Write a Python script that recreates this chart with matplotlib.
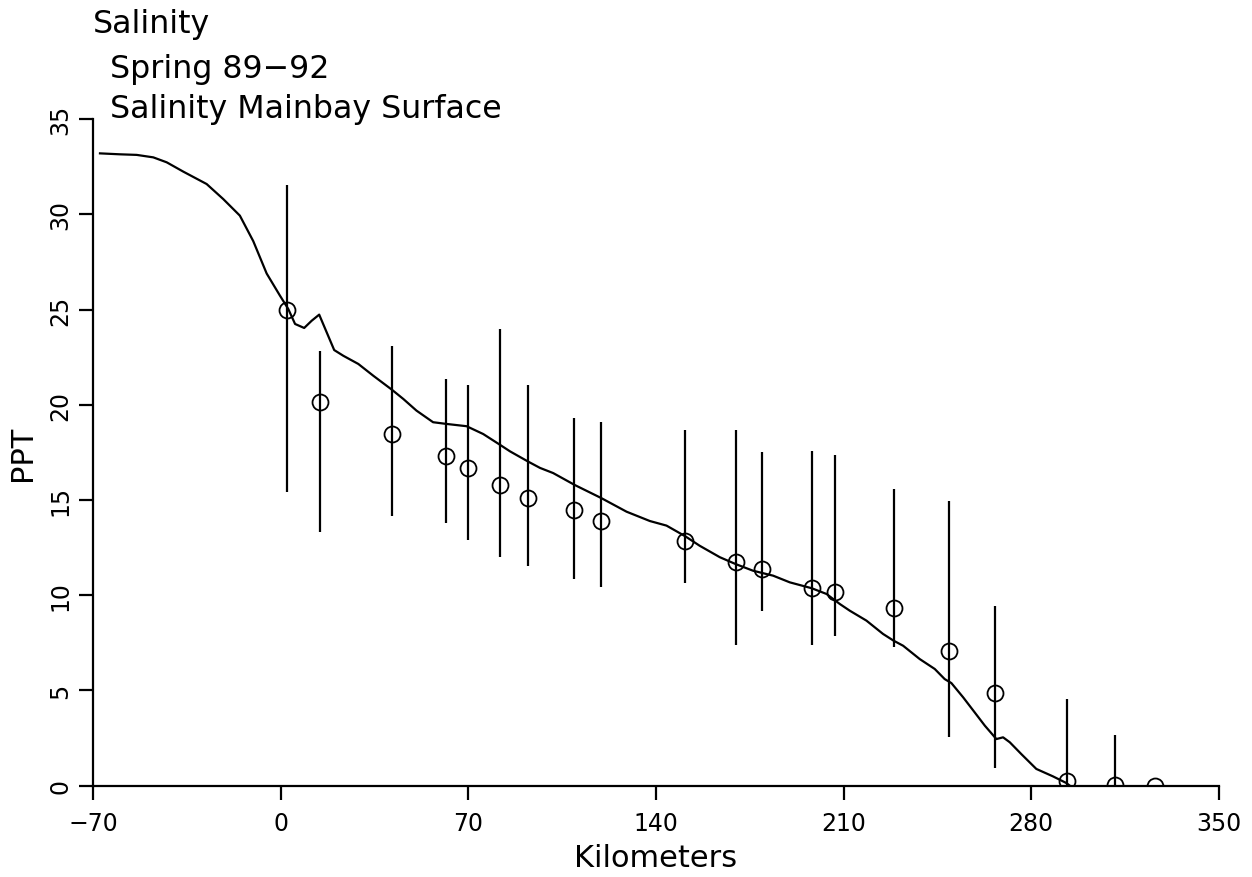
import numpy as np
import matplotlib
matplotlib.use("Agg")
import matplotlib.pyplot as plt

# Station observations (km, mean salinity, lower / upper bar ends)
station_km = [2.2, 14.6, 41.4, 61.5, 70.0, 81.8, 92.3, 109.2, 119.5, 150.9,
              169.7, 179.4, 198.1, 206.8, 228.7, 249.4, 266.6, 293.3, 311.3, 326.3]
station_mean = [24.98, 20.14, 18.47, 17.32, 16.69, 15.78, 15.11, 14.46, 13.92, 12.87,
                11.73, 11.36, 10.38, 10.19, 9.33, 7.06, 4.85, 0.26, 0.04, 0.0]
station_low = [15.44, 13.34, 14.15, 13.80, 12.92, 12.00, 11.55, 10.87, 10.42, 10.63,
               7.41, 9.18, 7.41, 7.85, 7.27, 2.57, 0.91, 0.0, 0.0, 0.0]
station_high = [31.55, 22.82, 23.11, 21.34, 21.05, 23.97, 21.06, 19.30, 19.12, 18.70,
                18.70, 17.54, 17.60, 17.39, 15.57, 14.94, 9.42, 4.54, 2.65, 0.0]

# Model curve
model_km = [-67.5, -60.0, -53.8, -47.6, -42.6, -36.4, -27.7, -21.5, -15.3, -10.3,
            -5.3, -0.35, 2.75, 5.3, 8.7, 11.5, 14.3, 17.1, 19.9, 23.3, 28.9, 34.5,
            41.4, 45.7, 50.6, 56.8, 61.8, 69.3, 75.5, 81.7, 85.5, 92.3, 96.7, 101.6,
            109.7, 119.5, 129.0, 137.7, 143.9, 150.9, 156.3, 163.8, 169.7, 176.2,
            183.7, 189.9, 198.1, 203.6, 208.6, 212.3, 218.5, 224.7, 228.6, 232.2,
            238.4, 244.0, 247.7, 250.2, 254.6, 258.9, 262.7, 267.0, 269.5, 272.0,
            276.3, 281.9, 288.1, 293.1, 294.4]
model_sal = [33.21, 33.16, 33.13, 33.0, 32.74, 32.25, 31.6, 30.81, 29.94, 28.6,
             26.9, 25.74, 25.04, 24.25, 24.04, 24.42, 24.74, 23.81, 22.88, 22.58, 22.15, 21.53,
             20.8, 20.31, 19.7, 19.09, 19.0, 18.88, 18.47, 17.91, 17.56, 17.02, 16.69, 16.42,
             15.79, 15.11, 14.39, 13.9, 13.66, 13.1, 12.6, 12.0, 11.64, 11.29,
             11.03, 10.68, 10.37, 10.07, 9.54, 9.19, 8.67, 7.97, 7.62, 7.35,
             6.65, 6.13, 5.6, 5.39, 4.64, 3.85, 3.15, 2.45, 2.54, 2.28,
             1.66, 0.88, 0.49, 0.14, 0.0]

xticks = [-70, 0, 70, 140, 210, 280, 350]
yticks = [0, 5, 10, 15, 20, 25, 30, 35]

plt.rcParams["font.family"] = ["DejaVu Sans"]

fig = plt.figure(figsize=(12.52, 8.78), dpi=100)
ax = fig.add_axes([0.0745, 0.104, 0.899, 0.759])

ax.plot(model_km, model_sal, color="black", lw=1.6)

mean = np.array(station_mean)
yerr = [mean - np.array(station_low), np.array(station_high) - mean]
ax.errorbar(station_km, station_mean, yerr=yerr, fmt="o", mfc="none", mec="black",
            ecolor="black", elinewidth=1.6, ms=11.5, mew=1.3, capsize=0)

ax.set_xlim(-70, 350)
ax.set_ylim(0, 35)
ax.set_xticks(xticks)
ax.set_yticks(yticks)
ax.set_xticklabels(["\u221270" if t < 0 else str(t) for t in xticks])
ax.spines["top"].set_visible(False)
ax.spines["right"].set_visible(False)
for s in ("left", "bottom"):
    ax.spines[s].set_linewidth(1.6)
ax.tick_params(direction="out", length=10, width=1.6, labelsize=17, pad=8)
ax.tick_params(axis="y", labelrotation=90, pad=5)
for lab in ax.get_yticklabels():
    lab.set_va("center")

ax.set_xlabel("Kilometers", fontsize=22, labelpad=6)
ax.set_ylabel("PPT", fontsize=22, labelpad=8)

fig.text(0.074, 0.962, "Salinity", fontsize=22.8)
fig.text(0.088, 0.911, "Spring 89\u221292", fontsize=22.8)
fig.text(0.088, 0.866, "Salinity Mainbay Surface", fontsize=22.8)

fig.savefig("out.png", dpi=100)
